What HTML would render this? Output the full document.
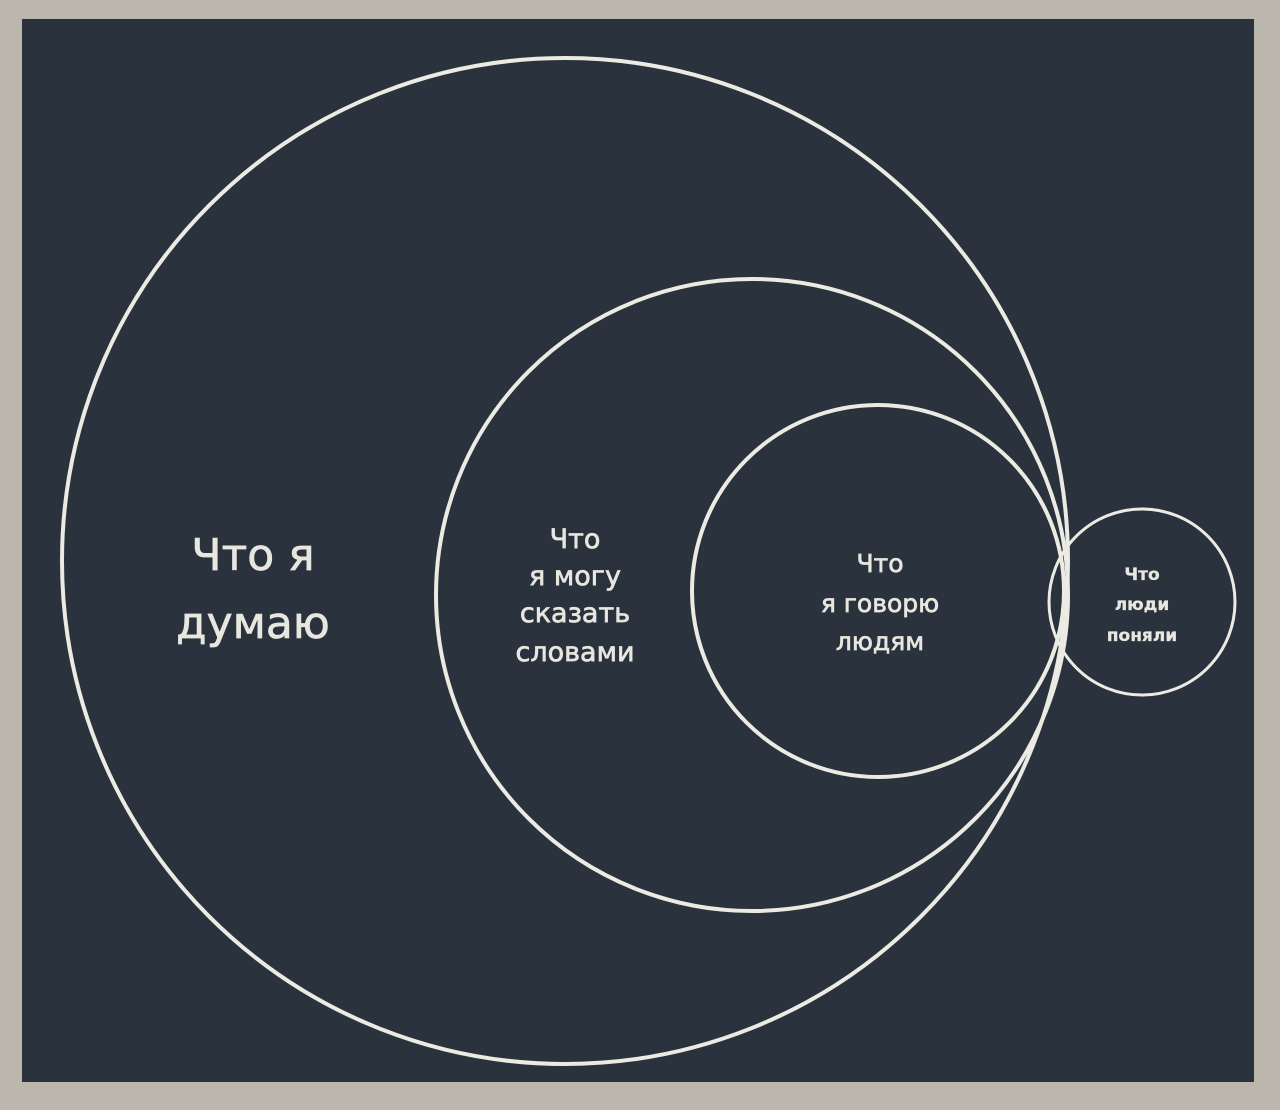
<!DOCTYPE html>
<html><head><meta charset="utf-8"><style>
html,body{margin:0;padding:0;width:1280px;height:1110px;background:#bcb7ad;overflow:hidden}
</style></head><body>
<svg width="1280" height="1110" viewBox="0 0 1280 1110" xmlns="http://www.w3.org/2000/svg">
<rect x="22" y="19" width="1232" height="1063" fill="#29323d"/>
<g fill="none" stroke="#ecebe3" stroke-width="4">
<circle cx="565" cy="561" r="503"/>
<circle cx="752" cy="595" r="316"/>
<circle cx="878" cy="591" r="186"/>
<circle cx="1142" cy="602" r="93" stroke-width="3"/>
</g>
<g fill="#e8e7df" stroke="#e8e7df" stroke-width="0.7" font-family="'DejaVu Sans','Liberation Sans',sans-serif" text-anchor="middle">
<text x="253" y="570" font-size="44">Что я</text>
<text x="253" y="638" font-size="44">думаю</text>
<text x="575" y="548" font-size="27">Что</text>
<text x="575" y="585" font-size="27">я могу</text>
<text x="575" y="622" font-size="27">сказать</text>
<text x="575" y="661" font-size="27">словами</text>
<text x="880" y="572" font-size="25">Что</text>
<text x="880" y="612" font-size="25">я говорю</text>
<text x="880" y="650" font-size="25">людям</text>
<text x="1142" y="580" font-size="17" font-weight="bold" stroke-width="0.3">Что</text>
<text x="1142" y="610" font-size="17" font-weight="bold" stroke-width="0.3">люди</text>
<text x="1142" y="641" font-size="17" font-weight="bold" stroke-width="0.3">поняли</text>
</g>
</svg>
</body></html>
